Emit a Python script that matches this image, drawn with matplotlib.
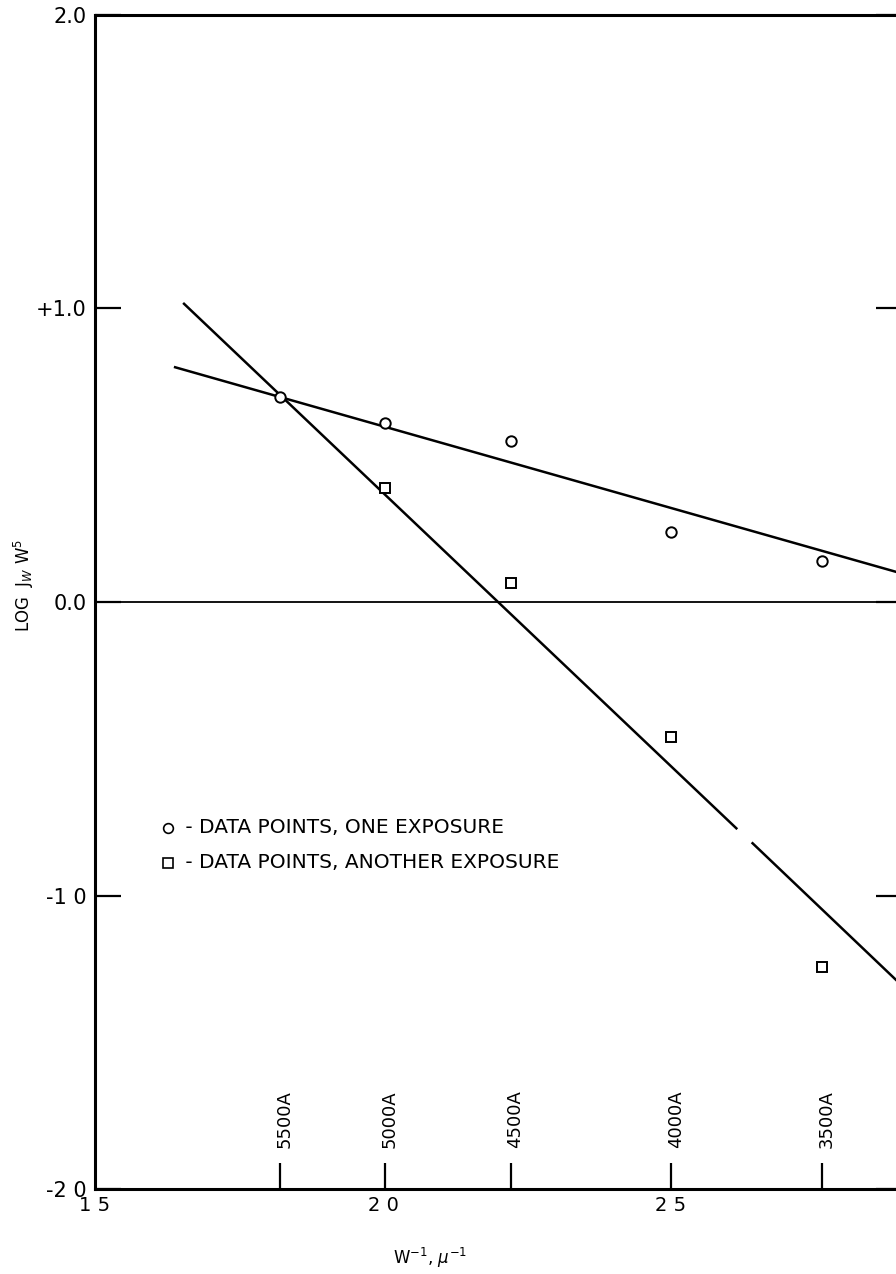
import matplotlib
matplotlib.use("Agg")
import matplotlib.pyplot as plt
import matplotlib.transforms as mtransforms

# data (x = inverse wavelength, 1/micron)
wave_x = [1.821, 2.003, 2.222, 2.500, 2.762]
wave_labels = ["5500A", "5000A", "4500A", "4000A", "3500A"]

circle_x = [1.821, 2.003, 2.222, 2.500, 2.762]
circle_y = [0.70, 0.61, 0.55, 0.24, 0.14]

square_x = [2.003, 2.222, 2.500, 2.762]
square_y = [0.39, 0.065, -0.46, -1.244]

# fitted lines (end points), second one has a break in the original
fit_one_x = [1.637, 2.901]
fit_one_y = [0.801, 0.097]
fit_two_x = [1.653, 2.615, 2.640, 2.901]
fit_two_y = [1.019, -0.774, -0.819, -1.307]

x_ticks = [1.5, 2.0, 2.5]
x_ticklabels = ["1 5", "2 0", "2 5"]
y_ticks = [-2, -1, 0, 1, 2]
y_ticklabels = ["-2 0", "-1 0", "0.0", "+1.0", "2.0"]

plt.rcParams["font.family"] = ["DejaVu Sans"]
plt.rcParams["mathtext.fontset"] = "dejavusans"

fig = plt.figure(figsize=(8.96, 12.74), dpi=100)
ax = fig.add_axes([95 / 896, 85 / 1274, 807 / 896, 1174 / 1274])
ax.set_xlim(1.5, 2.901)
ax.set_ylim(-2.0, 2.0)
ax.xaxis.remove_overlapping_locs = False

for s in ax.spines.values():
    s.set_linewidth(2.2)

lw = 1.8
ax.plot(fit_one_x, fit_one_y, color="black", lw=lw, solid_capstyle="butt")
ax.plot(fit_two_x[:2], fit_two_y[:2], color="black", lw=lw, solid_capstyle="butt")
ax.plot(fit_two_x[2:], fit_two_y[2:], color="black", lw=lw, solid_capstyle="butt")
ax.axhline(0.0, xmin=0.015, xmax=1, color="black", lw=1.3)

ax.plot(circle_x, circle_y, "o", ms=7.5, mfc="white", mec="black", mew=1.4, zorder=5)
ax.plot(square_x, square_y, "s", ms=7, mfc="white", mec="black", mew=1.4, zorder=5)

# y axis ticks
ax.set_yticks(y_ticks)
ax.set_yticklabels(y_ticklabels)
ax.tick_params(axis="y", direction="in", length=19, width=1.6, right=True,
               labelsize=15, pad=6)

# wavelength marks as major x ticks, numeric labels on minor ticks
ax.set_xticks(wave_x)
ax.set_xticklabels([""] * len(wave_x))
ax.tick_params(axis="x", which="major", direction="in", length=19, width=1.6)
ax.set_xticks(x_ticks, minor=True)
ax.set_xticklabels(x_ticklabels, minor=True)
ax.tick_params(axis="x", which="minor", length=0, labelsize=14, pad=5)
ax.get_xticklabels(minor=True)[0].set_x(1.515)

trans = mtransforms.blended_transform_factory(ax.transData, ax.transAxes)
for xv, lab in zip(wave_x, wave_labels):
    ax.text(xv + 0.008, 0.035, lab, transform=trans, rotation=90,
            ha="center", va="bottom", fontsize=13)

# legend drawn by hand
ax.plot([0.0905], [0.3075], "o", ms=7, mfc="white", mec="black", mew=1.2,
        transform=ax.transAxes, clip_on=False)
ax.text(0.104, 0.3075, " - DATA POINTS, ONE EXPOSURE", transform=ax.transAxes,
        ha="left", va="center", fontsize=14.5)
ax.plot([0.0905], [0.278], "s", ms=6.5, mfc="white", mec="black", mew=1.2,
        transform=ax.transAxes, clip_on=False)
ax.text(0.104, 0.278, " - DATA POINTS, ANOTHER EXPOSURE", transform=ax.transAxes,
        ha="left", va="center", fontsize=14.5)

fig.text(430 / 896, 1 - 1258 / 1274, r"W$^{-1}$, $\mu^{-1}$",
         ha="center", va="center", fontsize=12)
fig.text(24 / 896, 1 - 585 / 1274, r"LOG  J$_W$ W$^5$", rotation=90,
         ha="center", va="center", fontsize=12)

fig.savefig("out.png", dpi=100)
